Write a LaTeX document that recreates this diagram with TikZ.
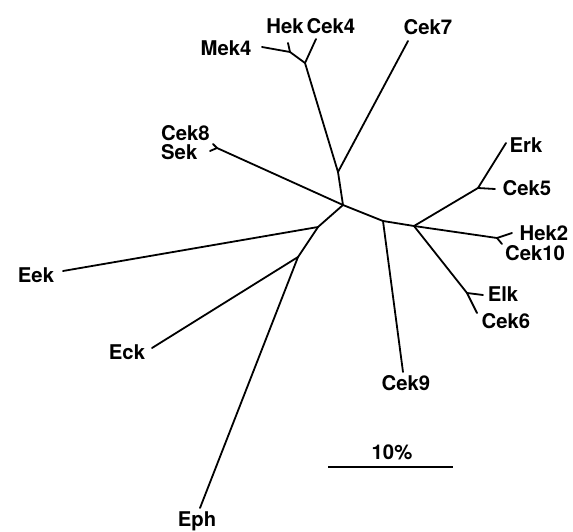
\documentclass[tikz,border=0pt]{standalone}
\usepackage{fontspec}
\setmainfont{TeX Gyre Heros}
\begin{document}
\begin{tikzpicture}[x=1pt,y=-1pt,
  branch/.style={line width=1.8pt,line cap=round,line join=round},
  taxon/.style={inner sep=0pt,font=\fontsize{20.3}{23}\selectfont\bfseries},
  scalebar/.style={line width=1.4pt}]
\useasboundingbox (0,0) rectangle (573,532);

% internal nodes of the unrooted tree
\coordinate (c)  at (343,205);
\coordinate (a)  at (338,172);
\coordinate (p)  at (305,63);
\coordinate (q)  at (290,52);
\coordinate (s)  at (217,148);
\coordinate (d)  at (318,227);
\coordinate (e)  at (298,257);
\coordinate (f)  at (383,221);
\coordinate (g)  at (414,226);
\coordinate (h1) at (478,188);
\coordinate (h2) at (497,238);
\coordinate (h3) at (467,293);

% branch tips
\coordinate (tMek4)  at (262,47);
\coordinate (tHek)   at (288,43);
\coordinate (tCek4)  at (316,39);
\coordinate (tCek7)  at (408,41);
\coordinate (tCek8)  at (213,144);
\coordinate (tSek)   at (210,151);
\coordinate (tEek)   at (63,271);
\coordinate (tEck)   at (152,348);
\coordinate (tEph)   at (200,508);
\coordinate (tCek9)  at (403,372);
\coordinate (tErk)   at (506,143);
\coordinate (tCek5)  at (495,189);
\coordinate (tHek2)  at (512,233);
\coordinate (tCek10) at (502,244);
\coordinate (tElk)   at (483,295);
\coordinate (tCek6)  at (477,313);

% branches
\draw[branch] (c) -- (a) -- (p) -- (q) -- (tMek4);
\draw[branch] (q) -- (tHek);
\draw[branch] (p) -- (tCek4);
\draw[branch] (a) -- (tCek7);
\draw[branch] (c) -- (s) -- (tCek8);
\draw[branch] (s) -- (tSek);
\draw[branch] (c) -- (d) -- (tEek);
\draw[branch] (d) -- (e) -- (tEck);
\draw[branch] (e) -- (tEph);
\draw[branch] (c) -- (f) -- (tCek9);
\draw[branch] (f) -- (g) -- (h1) -- (tErk);
\draw[branch] (h1) -- (tCek5);
\draw[branch] (g) -- (h2) -- (tHek2);
\draw[branch] (h2) -- (tCek10);
\draw[branch] (g) -- (h3) -- (tElk);
\draw[branch] (h3) -- (tCek6);

% taxon labels
\node[taxon] (lMek4)  at (226,48)  {Mek4};
\node[taxon] (lHek)   at (285,26)  {Hek};
\node[taxon] (lCek4)  at (331,26)  {Cek4};
\node[taxon] (lCek7)  at (428,27)  {Cek7};
\node[taxon,anchor=west] (lCek8) at (161,133) {Cek8};
\node[taxon,anchor=west] (lSek)  at (161,152) {Sek};
\node[taxon] (lEek)   at (36,275)  {Eek};
\node[taxon] (lEck)   at (127,352) {Eck};
\node[taxon] (lEph)   at (197,521) {Eph};
\node[taxon] (lCek9)  at (406,383) {Cek9};
\node[taxon] (lErk)   at (526,145) {Erk};
\node[taxon] (lCek5)  at (527,188) {Cek5};
\node[taxon] (lHek2)  at (544,233) {Hek2};
\node[taxon] (lCek10) at (535,253) {Cek10};
\node[taxon] (lElk)   at (503,294) {Elk};
\node[taxon] (lCek6)  at (506,321) {Cek6};

% scale bar
\coordinate (sb1) at (328,467);
\coordinate (sb2) at (453,467);
\draw[scalebar] (sb1) -- (sb2);
\node[taxon] (lScale) at (392,452) {10\%};
\end{tikzpicture}
\end{document}
